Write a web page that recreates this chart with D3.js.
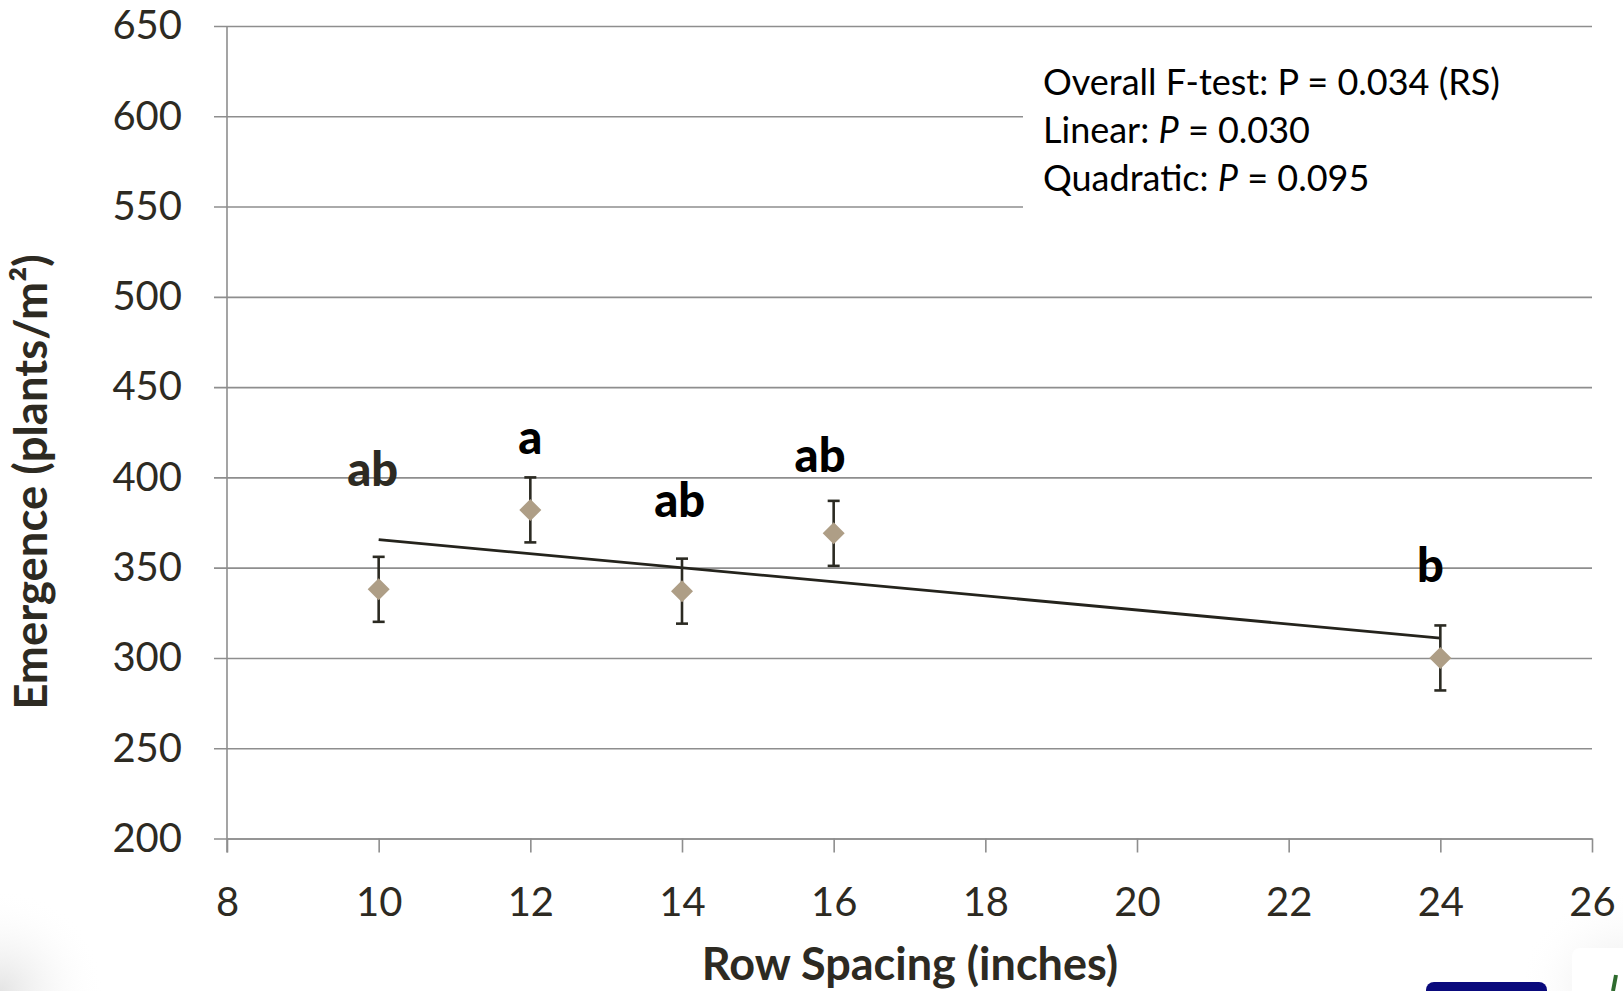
<!DOCTYPE html>
<html>
<head>
<meta charset="utf-8">
<script src="https://cdnjs.cloudflare.com/ajax/libs/d3/7.8.5/d3.min.js"></script>
<style>
  html, body { margin: 0; padding: 0; background: #fff; }
  svg { display: block; font-family: Lato, "Open Sans", sans-serif; }
</style>
</head>
<body>
<div id="container"></div>
<script>

var W = 1623, H = 991;

var margin = {top: 26, right: 31, bottom: 152.5, left: 227};

var width = W - margin.left - margin.right;
var height = H - margin.top - margin.bottom;

var fontFam = "Lato, 'Open Sans', sans-serif";
var textColor = "#2d2a22";
var gridColor = "#8e8e8e";
var markColor = "#ae9e86";

//  data
var rowSpacing = [10, 12, 14, 16, 24];
var emergence = [338, 382, 337, 369, 300];
var stdErr = [18, 18, 18, 18, 18];

var letters = ["ab", "a", "ab", "ab", "b"];
var letterX = [9.92, 12, 13.97, 15.82, 23.87];
var letterY = [395, 413, 378, 403, 342];

var trendX = [10, 24];
var trendY = [365.5, 311];

var xTicks = [8, 10, 12, 14, 16, 18, 20, 22, 24, 26];
var yTicks = [200, 250, 300, 350, 400, 450, 500, 550, 600, 650];

var notes = [
    [{t: "Overall F-test: P = 0.034 (RS)"}],
    [{t: "Linear: "}, {t: "P", i: true}, {t: " = 0.030"}],
    [{t: "Quadratic: "}, {t: "P", i: true}, {t: " = 0.095"}]
];

var x = d3.scaleLinear().domain([8, 26]).range([0, width]);
var y = d3.scaleLinear().domain([200, 650]).range([height, 0]);

var root = d3.select("#container")
    .append("svg")
    .attr("width", W)
    .attr("height", H);

//  faint slide shading in the lower corners
var defs = root.append("defs");

var gl = defs.append("radialGradient").attr("id", "shadeL")
    .attr("cx", 0).attr("cy", 1).attr("r", 0.35);
gl.append("stop").attr("offset", "0%").attr("stop-color", "#e4e4e4");
gl.append("stop").attr("offset", "100%").attr("stop-color", "#ffffff").attr("stop-opacity", 0);

var gr = defs.append("radialGradient").attr("id", "shadeR")
    .attr("cx", 1).attr("cy", 1).attr("r", 0.35);
gr.append("stop").attr("offset", "0%").attr("stop-color", "#e6e6e6");
gr.append("stop").attr("offset", "100%").attr("stop-color", "#ffffff").attr("stop-opacity", 0);

root.append("rect").attr("x", 0).attr("y", 700).attr("width", 300).attr("height", 291).attr("fill", "url(#shadeL)");
root.append("rect").attr("x", 1323).attr("y", 700).attr("width", 300).attr("height", 291).attr("fill", "url(#shadeR)");

//  logo pieces at the bottom right edge
root.append("rect").attr("x", 1426).attr("y", 982).attr("width", 121).attr("height", 20).attr("rx", 8)
    .attr("fill", "#0a0a7c");
root.append("rect").attr("x", 1572).attr("y", 948).attr("width", 60).attr("height", 60).attr("rx", 8)
    .attr("fill", "#ffffff");
root.append("line").attr("x1", 1613).attr("y1", 991).attr("x2", 1616).attr("y2", 975)
    .attr("stroke", "#2e6b2e").attr("stroke-width", 4);

var svg = root.append("g")
    .attr("transform", "translate(" + margin.left + "," + margin.top + ")");

//  gridlines (they also make the left tick marks)
svg.append("g")
    .attr("class", "grid")
    .call(d3.axisLeft(y).tickValues(yTicks).tickSize(-width).tickFormat(""))
    .call(function(g){ g.select(".domain").remove(); })
    .selectAll("line")
    .attr("x1", -13)
    .attr("stroke", gridColor)
    .attr("stroke-width", 1.6);

//  white box behind the stats text
svg.append("rect")
    .attr("x", 796)
    .attr("y", 36)
    .attr("width", width - 796)
    .attr("height", 170)
    .attr("fill", "#fff");

//  y axis
var yAxis = svg.append("g")
    .attr("class", "axis-left")
    .call(d3.axisLeft(y).tickValues(yTicks).tickSize(0).tickPadding(45));

yAxis.attr("font-family", fontFam);

yAxis.select(".domain")
    .attr("d", "M0,0V" + (height + 14))
    .attr("stroke", gridColor)
    .attr("stroke-width", 1.6);

yAxis.selectAll("text")
    .attr("fill", textColor)
    .style("font-size", "40px");

//  x axis
var xAxis = svg.append("g")
    .attr("class", "axis-bottom")
    .attr("transform", "translate(0," + height + ")")
    .call(d3.axisBottom(x).tickValues(xTicks).tickSize(14).tickSizeOuter(0).tickPadding(35));

xAxis.attr("font-family", fontFam);

xAxis.select(".domain").attr("stroke", gridColor).attr("stroke-width", 1.6);

xAxis.selectAll("line").attr("stroke", gridColor).attr("stroke-width", 1.6);

xAxis.selectAll("text")
    .attr("fill", textColor)
    .attr("dy", 0)
    .attr("y", 77.5)
    .style("font-size", "40px");

//  trend line
svg.append("path")
    .datum(d3.zip(trendX, trendY))
    .attr("d", d3.line().x(function(d){ return x(d[0]); }).y(function(d){ return y(d[1]); }))
    .attr("fill", "none")
    .attr("stroke", "#24231c")
    .attr("stroke-width", 2.8);

var pts = d3.range(rowSpacing.length).map(function(i){
    return {x: rowSpacing[i], v: emergence[i], se: stdErr[i]};
});

//  error bars
var bars = svg.selectAll(".err")
    .data(pts)
    .enter()
    .append("g")
    .attr("class", "err")
    .attr("stroke", "#2b2a22")
    .attr("stroke-width", 2.6);

bars.append("line")
    .attr("x1", function(d){ return x(d.x); })
    .attr("x2", function(d){ return x(d.x); })
    .attr("y1", function(d){ return y(d.v + d.se); })
    .attr("y2", function(d){ return y(d.v - d.se); });

bars.append("line")
    .attr("x1", function(d){ return x(d.x) - 6; })
    .attr("x2", function(d){ return x(d.x) + 6; })
    .attr("y1", function(d){ return y(d.v + d.se); })
    .attr("y2", function(d){ return y(d.v + d.se); });

bars.append("line")
    .attr("x1", function(d){ return x(d.x) - 6; })
    .attr("x2", function(d){ return x(d.x) + 6; })
    .attr("y1", function(d){ return y(d.v - d.se); })
    .attr("y2", function(d){ return y(d.v - d.se); });

//  diamonds
svg.selectAll(".pt")
    .data(pts)
    .enter()
    .append("path")
    .attr("class", "pt")
    .attr("d", "M0,-11L11,0L0,11L-11,0Z")
    .attr("transform", function(d){ return "translate(" + x(d.x) + "," + y(d.v) + ")"; })
    .attr("fill", markColor);

//  mean separation letters
svg.selectAll(".letter")
    .data(letters)
    .enter()
    .append("text")
    .attr("class", "letter")
    .attr("x", function(d, i){ return x(letterX[i]); })
    .attr("y", function(d, i){ return y(letterY[i]); })
    .attr("text-anchor", "middle")
    .attr("fill", function(d, i){ return i == 0 ? textColor : "#000"; })
    .style("font-size", "47px")
    .style("font-weight", "900")
    .text(function(d){ return d; });

//  stats text
notes.forEach(function(line, i){
    var t = svg.append("text")
        .attr("x", 816)
        .attr("y", 69 + i * 48)
        .attr("fill", "#000")
        .style("font-size", "36px");
    line.forEach(function(p){
        t.append("tspan")
            .style("font-style", p.i ? "italic" : "normal")
            .text(p.t);
    });
});

//  axis titles
root.append("text")
    .attr("transform", "translate(47,482) rotate(-90)")
    .attr("text-anchor", "middle")
    .attr("fill", textColor)
    .style("font-size", "45.5px")
    .style("font-weight", "bold")
    .text("Emergence (plants/m²)");

root.append("text")
    .attr("x", 910)
    .attr("y", 980)
    .attr("text-anchor", "middle")
    .attr("fill", textColor)
    .style("font-size", "45px")
    .style("font-weight", "bold")
    .text("Row Spacing (inches)");

</script>
</body>
</html>
